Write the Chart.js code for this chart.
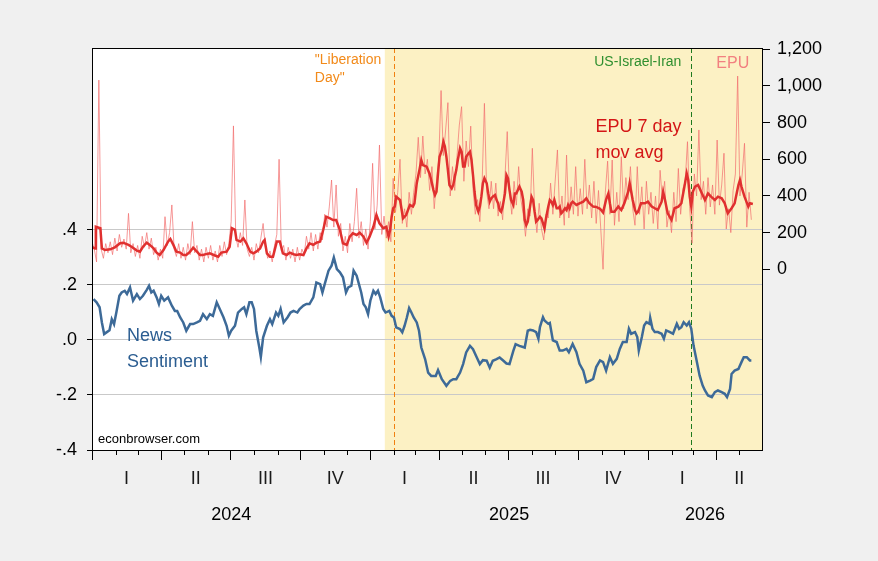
<!doctype html>
<html lang="en">
<head>
<meta charset="utf-8">
<title>EPU and News Sentiment</title>
<style>
  html, body { margin: 0; padding: 0; background: #f0f0f0; }
  #wrap { width: 878px; height: 561px; }
</style>
</head>
<body>
<div id="wrap"><canvas id="chart" width="878" height="561"></canvas></div>
<script src="https://cdn.jsdelivr.net/npm/chart.js@4.4.1/dist/chart.umd.min.js"></script>
<script>
// x values are days since 1 Jan 2024
const xMax = 881;

// daily EPU, one reading every 3 days starting at day 0
const epuStart = 0, epuStep = 3;
const epuDaily = [
  150,110,40,1032,110,60,140,90,150,80,
  170,100,190,120,165,110,305,90,140,70,
  130,60,180,120,200,110,170,80,120,50,
  110,60,287,130,200,351,110,70,140,60,
  120,50,140,80,260,90,130,50,110,40,
  120,60,130,50,100,40,130,70,150,80,
  140,260,782,180,120,200,130,378,110,70,
  120,50,140,90,170,250,120,60,100,40,
  130,190,600,100,130,50,120,60,110,40,
  120,50,110,80,180,110,200,100,190,110,
  200,160,300,230,340,487,230,460,180,250,
  100,180,90,250,150,260,442,170,260,130,
  220,110,260,578,220,350,678,190,290,170,
  260,150,496,310,420,600,250,330,230,420,
  300,420,520,720,500,727,520,600,430,560,
  330,480,600,975,620,760,909,400,560,430,
  620,787,887,480,700,560,781,440,300,380,
  260,470,905,420,330,480,330,470,290,370,
  270,500,751,420,300,480,350,560,380,300,
  180,330,290,660,330,200,360,220,160,300,
  280,470,300,480,651,280,400,240,623,280,
  450,300,560,290,440,300,600,330,460,280,
  480,250,430,220,0,420,590,300,596,240,
  420,260,614,330,500,380,560,330,240,560,
  300,450,220,480,300,420,250,400,220,540,
  380,480,230,320,200,420,260,550,300,440,
  480,696,330,142,520,400,760,380,480,300,
  500,340,460,300,705,350,460,633,220,330,
  200,430,520,1054,400,520,687,230,420,270
];

// EPU 7 day moving average
const maDays = [
  0,4,5,11,13,17,24,30,37,41,
  48,52,59,63,67,72,76,81,85,89,
  94,100,103,107,111,116,120,124,129,133,
  138,142,146,151,155,160,166,170,177,181,
  184,188,190,195,199,203,208,212,216,221,
  225,227,230,234,238,243,247,251,256,260,
  265,269,273,278,282,286,291,295,300,304,
  308,313,317,321,326,330,335,339,343,348,
  352,357,361,365,370,374,378,383,387,390,
  392,394,396,398,400,405,409,413,418,422,
  424,427,431,433,435,440,444,446,449,451,
  453,455,457,460,462,464,466,468,470,473,
  475,477,479,481,484,486,488,490,492,495,
  497,499,501,503,505,508,510,512,514,516,
  519,521,523,525,527,530,532,534,536,538,
  540,543,545,547,549,551,554,556,558,560,
  562,565,567,569,571,573,576,578,580,582,
  584,586,589,591,593,595,597,600,602,604,
  606,608,611,613,615,617,619,622,624,626,
  628,630,632,637,641,646,650,654,659,663,
  668,672,676,679,681,683,687,692,696,700,
  705,707,709,711,714,716,718,722,727,731,
  736,740,744,749,751,753,757,762,766,771,
  775,779,782,784,786,788,790,793,797,801,
  806,810,814,819,823,828,832,836,841,845,
  850,852,854,858,863,865,869
];
const maValues = [
  120,114,232,224,114,105,109,120,142,145,
  133,123,102,96,123,145,133,114,91,78,
  105,151,165,133,96,91,78,78,96,118,
  96,78,78,84,87,78,69,91,96,123,
  224,215,160,151,169,142,96,87,96,114,
  151,160,87,69,69,151,151,87,78,91,
  82,78,82,78,114,142,133,145,151,214,
  287,278,269,269,214,142,133,178,196,187,
  200,178,145,178,232,296,251,224,232,178,
  214,287,333,342,396,378,278,296,351,342,
  360,469,551,596,569,560,520,487,432,405,
  423,523,614,650,696,669,614,541,460,441,
  460,505,541,596,660,641,560,560,614,632,
  641,596,514,423,351,314,342,396,469,496,
  469,414,369,387,396,405,378,360,323,314,
  342,414,514,496,432,378,351,414,414,432,
  451,423,378,269,241,260,342,396,378,314,
  260,269,287,278,251,223,278,342,378,369,
  351,378,333,333,342,305,314,333,323,351,
  333,360,369,351,360,369,387,360,342,340,
  330,310,380,414,360,314,314,342,323,360,
  423,469,423,378,323,305,314,360,360,369,
  342,333,323,369,423,387,305,269,333,342,
  360,451,523,487,396,342,423,451,460,423,
  378,414,396,378,396,387,360,305,333,360,
  460,487,451,396,342,360,356
];

// News sentiment (left axis)
const sentDays = [
  2,6,10,13,16,19,23,26,29,32,
  36,39,43,46,50,54,59,63,67,72,
  75,78,81,85,88,91,95,100,105,109,
  112,116,120,124,129,133,138,142,146,151,
  155,159,164,168,173,177,180,183,188,192,
  197,200,203,207,210,213,216,220,222,225,
  230,234,237,242,245,248,252,257,261,265,
  270,273,278,282,286,291,295,300,303,306,
  311,315,318,322,326,330,334,337,341,344,
  348,351,354,357,360,363,366,370,373,376,
  379,383,386,391,394,397,400,405,408,411,
  414,417,420,423,427,430,433,438,442,446,
  452,455,460,466,471,475,479,484,488,492,
  497,501,506,510,514,519,523,527,532,536,
  541,545,549,554,557,562,569,573,576,580,
  584,587,589,593,595,600,602,606,611,615,
  619,624,627,632,637,641,646,650,655,659,
  663,668,672,676,681,685,690,694,698,703,
  706,709,714,717,719,723,726,729,733,734,
  737,740,744,749,752,755,760,764,769,772,
  775,778,782,785,788,791,795,799,803,806,
  810,815,819,823,828,832,835,839,841,845,
  850,854,857,861,865,867
];
const sentValues = [
  .148,.136,.118,.063,.021,.027,.035,.075,.057,.099,
  .160,.172,.178,.166,.190,.142,.166,.148,.160,.181,
  .196,.172,.178,.154,.130,.160,.142,.154,.124,.105,
  .105,.081,.063,.033,.057,.057,.063,.069,.093,.075,
  .093,.087,.136,.112,.081,.051,.015,.033,.051,.099,
  .112,.118,.093,.136,.136,.112,.033,-.028,-.062,.008,
  .051,.075,.057,.099,.087,.112,.063,.081,.099,.105,
  .099,.112,.124,.130,.130,.154,.208,.202,.172,.202,
  .251,.269,.299,.257,.245,.227,.172,.190,.196,.251,
  .233,.202,.172,.130,.118,.093,.142,.178,.166,.178,
  .154,.112,.099,.105,.087,.081,.045,.039,.027,.051,
  .081,.115,.099,.081,.063,.033,-.028,-.070,-.119,-.131,
  -.131,-.110,-.143,-.167,-.149,-.143,-.143,-.119,-.088,-.046,
  -.022,-.034,-.064,-.088,-.074,-.076,-.101,-.076,-.070,-.064,
  -.076,-.086,-.088,-.040,-.016,-.022,-.028,.033,.036,.034,
  .028,.004,.046,.082,.070,.058,.061,-.002,-.008,-.039,
  -.039,-.033,-.045,-.015,-.045,-.087,-.112,-.154,-.148,-.142,
  -.099,-.075,-.081,-.112,-.063,-.087,-.069,-.033,-.008,-.008,
  .040,.022,.028,.010,-.039,.010,.052,.064,.058,.080,
  .040,.028,.028,.022,.004,.034,.028,.022,.058,.040,
  .046,.064,.052,.064,.040,-.021,-.075,-.130,-.166,-.184,
  -.202,-.208,-.190,-.184,-.190,-.196,-.208,-.178,-.124,-.112,
  -.106,-.081,-.063,-.063,-.075,-.075
];

// axis ticks and labels
const leftTicks = [-0.4, -0.2, 0, 0.2, 0.4];
const rightTicks = [0, 200, 400, 600, 800, 1000, 1200];
const quarterMid = [45.5, 136.5, 228, 320, 411, 501.5, 593, 685, 776, 851];
const quarterLabels = ['I', 'II', 'III', 'IV', 'I', 'II', 'III', 'IV', 'I', 'II'];
const yearMid = [183, 548.5, 806];
const yearLabels = ['2024', '2025', '2026'];
const monthStarts = [0,31,60,91,121,152,182,213,244,274,305,335,
  366,397,425,456,486,517,547,578,609,639,670,700,
  731,762,790,821,851];
const quarterStarts = [0,91,182,274,366,456,547,639,731,821];

// shading and event lines
const shadeFrom = 385;
const events = [
  {day: 397, color: '#f08010'},
  {day: 788, color: '#1e7a1e'}
];
const notes = [
  {text: '"Liberation', day: 293, val: 1.017, color: '#f28a1a', size: 14, align: 'left'},
  {text: 'Day"', day: 293, val: 0.950, color: '#f28a1a', size: 14, align: 'left'},
  {text: 'US-Israel-Iran', day: 775, val: 1.008, color: '#2f8f2f', size: 14, align: 'right'},
  {text: 'EPU', day: 821, val: 1.003, color: '#f28080', size: 16, align: 'left'},
  {text: 'EPU 7 day', day: 662, val: 0.771, color: '#d41616', size: 18, align: 'left'},
  {text: 'mov avg', day: 662, val: 0.678, color: '#d41616', size: 18, align: 'left'},
  {text: 'News', day: 46, val: 0.012, color: '#2b5d91', size: 18, align: 'left'},
  {text: 'Sentiment', day: 46, val: -0.079, color: '#2b5d91', size: 18, align: 'left'},
  {text: 'econbrowser.com', day: 8, val: -0.362, color: '#000000', size: 13, align: 'left'}
];

function fmtLeft(v) {
  if (Math.abs(v) < 1e-9) return '.0';
  return (v < 0 ? '-' : '') + '.' + Math.round(Math.abs(v) * 10);
}

const FONT = 'Arial, "Liberation Sans", sans-serif';
Chart.defaults.font.family = FONT;
Chart.defaults.font.size = 18;
Chart.defaults.color = '#000';

const decor = {
  id: 'decor',
  beforeDraw(chart) {
    const {ctx, chartArea: a, scales} = chart;
    ctx.save();
    ctx.fillStyle = '#f0f0f0';
    ctx.fillRect(0, 0, chart.width, chart.height);
    ctx.fillStyle = '#ffffff';
    ctx.fillRect(a.left, a.top, a.right - a.left, a.bottom - a.top);
    const x0 = scales.x.getPixelForValue(shadeFrom);
    ctx.fillStyle = '#fcf1c4';
    ctx.fillRect(x0, a.top, a.right - x0, a.bottom - a.top);
    ctx.restore();
  },
  beforeDatasetsDraw(chart) {
    const {ctx, chartArea: a, scales} = chart;
    ctx.save();
    ctx.lineWidth = 1;
    ctx.setLineDash([5, 3]);
    events.forEach(e => {
      const x = Math.round(scales.x.getPixelForValue(e.day)) + 0.5;
      ctx.strokeStyle = e.color;
      ctx.beginPath();
      ctx.moveTo(x, a.top);
      ctx.lineTo(x, a.bottom);
      ctx.stroke();
    });
    ctx.restore();
  },
  afterDraw(chart) {
    const {ctx, chartArea: a, scales} = chart;
    ctx.save();
    // frame
    ctx.strokeStyle = '#000';
    ctx.lineWidth = 1;
    ctx.strokeRect(Math.round(a.left) + 0.5, Math.round(a.top) + 0.5,
      Math.round(a.right - a.left), Math.round(a.bottom - a.top));
    // month / quarter tick marks under the plot
    ctx.beginPath();
    monthStarts.forEach(d => {
      const x = Math.round(scales.x.getPixelForValue(d)) + 0.5;
      const len = quarterStarts.includes(d) ? 10 : 5;
      ctx.moveTo(x, a.bottom);
      ctx.lineTo(x, a.bottom + len);
    });
    ctx.stroke();
    // text notes
    ctx.textBaseline = 'middle';
    notes.forEach(n => {
      ctx.font = n.size + 'px ' + FONT;
      ctx.fillStyle = n.color;
      ctx.textAlign = n.align;
      ctx.fillText(n.text, scales.x.getPixelForValue(n.day), scales.y.getPixelForValue(n.val));
    });
    ctx.restore();
  }
};

new Chart(document.getElementById('chart'), {
  type: 'line',
  data: {
    datasets: [
      {
        label: 'News Sentiment',
        data: sentDays.map((d, i) => ({x: d, y: sentValues[i]})),
        yAxisID: 'y',
        borderColor: '#3d6a98',
        borderWidth: 2.5,
        pointRadius: 0,
        tension: 0,
        order: 1
      },
      {
        label: 'EPU 7 day mov avg',
        data: maDays.map((d, i) => ({x: d, y: maValues[i]})),
        yAxisID: 'y1',
        borderColor: '#e0302f',
        borderWidth: 2.5,
        pointRadius: 0,
        tension: 0,
        order: 2
      },
      {
        label: 'EPU',
        data: epuDaily.map((v, i) => ({x: epuStart + i * epuStep, y: v})),
        yAxisID: 'y1',
        borderColor: 'rgba(242,110,110,0.7)',
        borderWidth: 1,
        pointRadius: 0,
        tension: 0,
        order: 3
      }
    ]
  },
  options: {
    responsive: false,
    animation: false,
    layout: {padding: {top: 48, left: 0, right: 0, bottom: 0}},
    plugins: {legend: {display: false}, tooltip: {enabled: false}},
    scales: {
      x: {
        type: 'linear', position: 'bottom', weight: 1,
        min: 0, max: xMax,
        grid: {display: false},
        border: {display: false},
        afterBuildTicks: s => { s.ticks = quarterMid.map(v => ({value: v})); },
        afterFit: s => { s.height = 40; },
        ticks: {
          autoSkip: false, maxRotation: 0, padding: 10,
          color: '#1a1a1a',
          callback: (v, i) => quarterLabels[i]
        }
      },
      x2: {
        type: 'linear', position: 'bottom', weight: 2,
        min: 0, max: xMax,
        grid: {display: false},
        border: {display: false},
        afterBuildTicks: s => { s.ticks = yearMid.map(v => ({value: v})); },
        afterFit: s => { s.height = 71; },
        ticks: {
          autoSkip: false, maxRotation: 0, padding: 6,
          callback: (v, i) => yearLabels[i]
        }
      },
      y: {
        type: 'linear', position: 'left',
        min: -0.4, max: 1.0593,
        border: {display: false},
        grid: {
          color: c => (c.tick && c.tick.value < -0.39) ? 'rgba(0,0,0,0)' : '#c9c9c9',
          lineWidth: 1,
          tickLength: 5,
          tickColor: '#000'
        },
        afterBuildTicks: s => { s.ticks = leftTicks.map(v => ({value: v})); },
        afterFit: s => { s.width = 92; },
        ticks: {padding: 10, callback: v => fmtLeft(v)}
      },
      y1: {
        type: 'linear', position: 'right',
        min: -985.6, max: 1207,
        border: {display: false},
        grid: {drawOnChartArea: false, tickLength: 8, tickColor: '#000'},
        afterBuildTicks: s => { s.ticks = rightTicks.map(v => ({value: v})); },
        afterFit: s => { s.width = 116; },
        ticks: {padding: 7, callback: v => v.toLocaleString('en-US')}
      }
    }
  },
  plugins: [decor]
});
</script>
</body>
</html>
